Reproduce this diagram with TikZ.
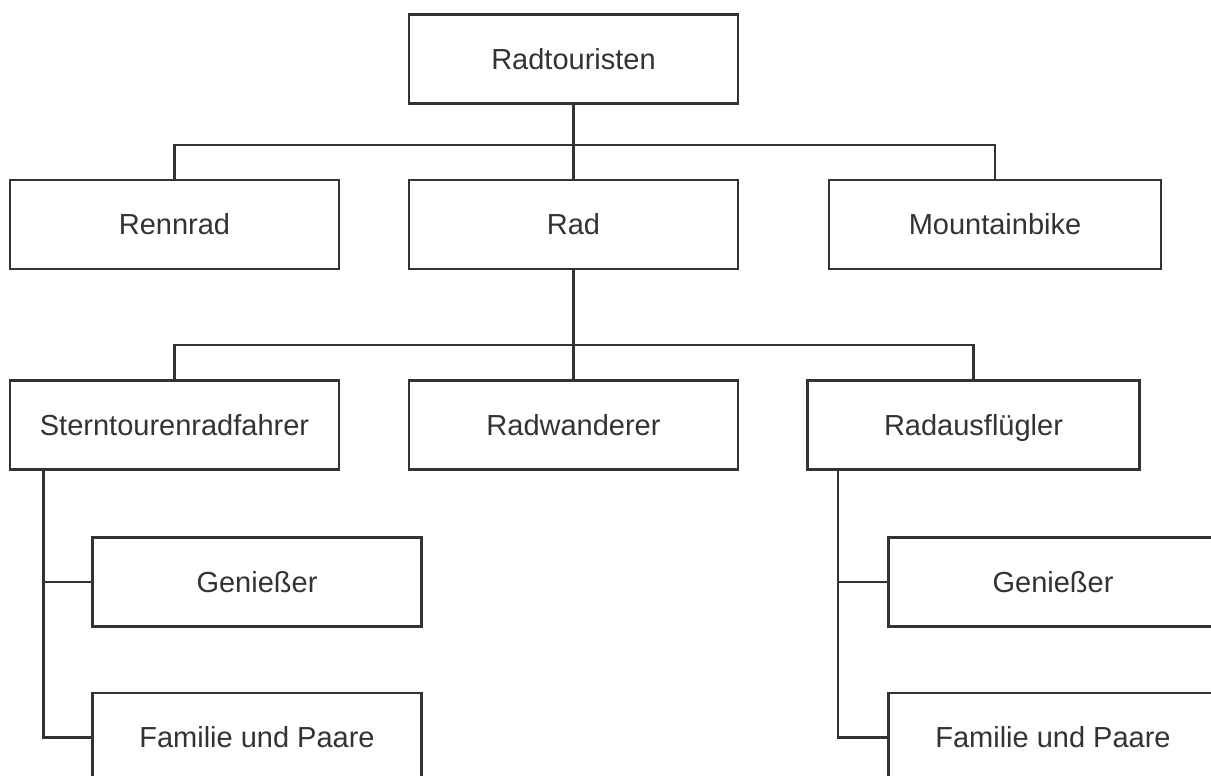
\documentclass[tikz,border=0pt]{standalone}
\usepackage{fontspec}
\setmainfont{Liberation Sans}
\definecolor{ink}{HTML}{333333}
\begin{document}
\begin{tikzpicture}[x=1pt,y=-1pt,
  box/.style={draw=ink,line width=2.2pt,rectangle,minimum width=329pt,minimum height=89pt,inner sep=0pt,text height=20.8pt,text depth=0pt,text=ink,font=\fontsize{29}{34}\selectfont},
  wide/.style={minimum width=332pt},
  conn/.style={draw=ink,line width=2.2pt}]
\clip (0,0) rectangle (1211,776);
\fill[white] (0,0) rectangle (1211,776);
\node[box] (rt) at (573.5,59) {Radtouristen};
\node[box] (ren) at (174.5,224.5) {Rennrad};
\node[box] (rad) at (573.5,224.5) {Rad};
\node[box,wide] (mtb) at (995,224.5) {Mountainbike};
\node[box] (st) at (174.5,425) {Sterntourenradfahrer};
\node[box] (rw) at (573.5,425) {Radwanderer};
\node[box,wide] (ra) at (973.5,425) {Radausflügler};
\node[box] (g1) at (257,582) {Genießer};
\node[box] (f1) at (257,737.5) {Familie und Paare};
\node[box] (g2) at (1053,582) {Genießer};
\node[box] (f2) at (1053,737.5) {Familie und Paare};
\coordinate (j1) at (573.5,145);
\coordinate (j2) at (573.5,345);
\draw[conn] (rt.south) -- (j1) -- (rad.north);
\draw[conn] (ren.north) |- (j1) -| (mtb.north);
\draw[conn] (rad.south) -- (j2) -- (rw.north);
\draw[conn] (st.north) |- (j2) -| (ra.north);
\draw[conn] ([xshift=-131pt]st.south) |- (f1.west);
\draw[conn] (g1.west) -- ++(-48.5,0);
\draw[conn] ([xshift=-135.5pt]ra.south) |- (f2.west);
\draw[conn] (g2.west) -- ++(-49.5,0);
\end{tikzpicture}
\end{document}
